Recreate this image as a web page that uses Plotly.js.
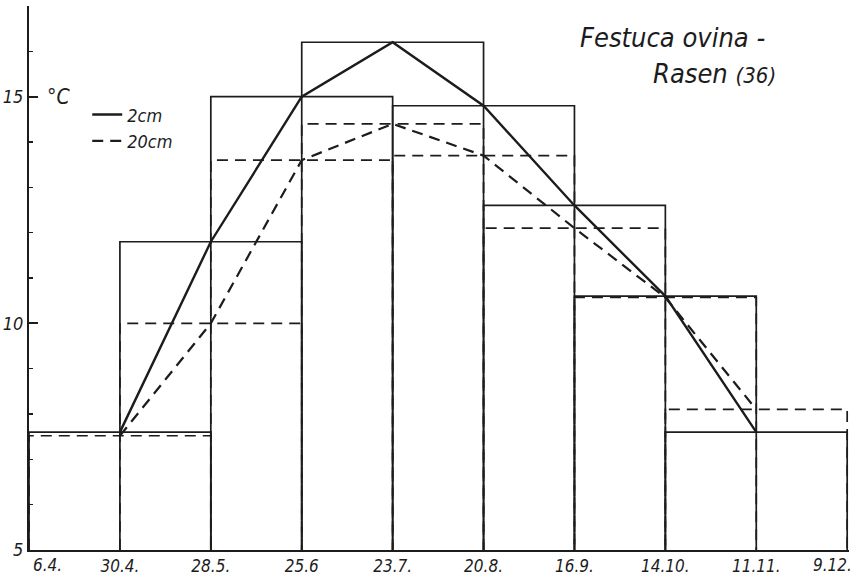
<!DOCTYPE html>
<html><head><meta charset="utf-8">
<script src="https://cdn.plot.ly/plotly-3.0.1.min.js"></script>
<style>html,body{margin:0;padding:0;background:#fff}#chart{width:859px;height:580px}</style>
</head><body><div id="chart"></div>
<script>
// ---- data ----
const dates = ["6.4.","30.4.","28.5.","25.6","23.7.","20.8.","16.9.","14.10.","11.11.","9.12."];
const measuredDates = ["30.4.","28.5.","25.6","23.7.","20.8.","16.9.","14.10.","11.11."];
const temp2cm  = [7.6, 11.8, 15.0, 16.2, 14.8, 12.6, 10.6, 7.6];
const temp20cm = [7.52, 10.0, 13.6, 14.4, 13.7, 12.1, 10.57, 8.1];
const yTickVals = [5, 10, 15];
const yTickText = ["5", "10", "15"];
const baseValue = 5;

// ---- build traces ----
const FONT = "'DejaVu Sans Condensed','Liberation Sans Narrow','DejaVu Sans',sans-serif";
const INK = "#1c1c1c";
const DASH = "11px,7px";
const idx = measuredDates.map(d => dates.indexOf(d));
const lastIdx = dates.length - 1;

function boxes(vals){
  const xs = [], ys = [];
  vals.forEach((v, k) => {
    const c = idx[k];
    xs.push(c - 1, c - 1, c + 1, c + 1, null);
    ys.push(baseValue, v, v, baseValue, null);
  });
  return {xs, ys};
}
const b20 = boxes(temp20cm), b2 = boxes(temp2cm);

const traces = [
  {x: b20.xs, y: b20.ys, mode: "lines", line: {color: INK, width: 1.7, dash: DASH}, showlegend: false, hoverinfo: "skip", connectgaps: false},
  {x: b2.xs, y: b2.ys, mode: "lines", line: {color: INK, width: 1.7}, showlegend: false, hoverinfo: "skip", connectgaps: false},
  {x: idx, y: temp2cm, name: "2cm", mode: "lines", line: {color: INK, width: 2.4}, legendrank: 1},
  {x: idx, y: temp20cm, name: "20cm", mode: "lines", line: {color: INK, width: 2.2, dash: DASH}, legendrank: 2}
];

// inner x tick labels on the axis; the two end labels sit inside the frame as in the reference
const innerTickVals = dates.map((d, i) => i).slice(1, lastIdx);
const innerTickText = dates.slice(1, lastIdx);
const xLabelFont = {family: FONT, size: 17, color: INK, style: "italic"};

const layout = {
  width: 859, height: 580,
  margin: {l: 29, r: 10, t: 6, b: 30},
  paper_bgcolor: "#fff", plot_bgcolor: "#fff",
  font: {family: FONT, color: INK, size: 18, style: "italic"},
  showlegend: true,
  legend: {x: 0.071, y: 0.834, xanchor: "left", yanchor: "top", bgcolor: "rgba(0,0,0,0)",
           font: {family: FONT, size: 18, color: INK, style: "italic"}, tracegroupgap: 0},
  title: {text: "Festuca ovina -", xref: "container", yref: "container", x: 580/859, xanchor: "left",
          y: 1 - 38/580, yanchor: "middle", font: {family: FONT, size: 27, color: INK, style: "italic"}},
  xaxis: {range: [0, 9.02], tickmode: "array", tickvals: innerTickVals, ticktext: innerTickText,
          showline: true, linecolor: INK, linewidth: 2, ticks: "", showgrid: false, zeroline: false,
          tickfont: xLabelFont, fixedrange: true},
  yaxis: {range: [5, 17], tickmode: "array", tickvals: yTickVals, ticktext: yTickText,
          ticks: "inside", ticklen: 9, tickwidth: 2, tickcolor: INK,
          minor: {dtick: 1, tick0: 5, ticks: "inside", ticklen: 4, tickwidth: 1.6, tickcolor: INK, showgrid: false},
          showline: true, linecolor: INK, linewidth: 2, showgrid: false, zeroline: false,
          tickfont: {family: FONT, size: 18, color: INK, style: "italic"}, fixedrange: true},
  annotations: [
    {text: "Rasen <span style='font-size:22px'>(36)</span>", xref: "paper", yref: "paper",
     x: (651 - 29)/819.8, y: (550 - 73)/544, xanchor: "left", yanchor: "middle", showarrow: false,
     font: {family: FONT, size: 27, color: INK, style: "italic"}},
    {text: "°C", xref: "paper", yref: "paper", x: (45 - 29)/819.8, y: (550 - 97)/544,
     xanchor: "left", yanchor: "middle", showarrow: false,
     font: {family: FONT, size: 21, color: INK, style: "italic"}},
    {text: dates[0], xref: "x", yref: "paper", x: 0, y: 0, xanchor: "left", yanchor: "top",
     xshift: 2, yshift: -3, showarrow: false, font: xLabelFont},
    {text: dates[lastIdx], xref: "x", yref: "paper", x: lastIdx, y: 0, xanchor: "right", yanchor: "top",
     xshift: 7, yshift: -3, showarrow: false, font: xLabelFont}
  ]
};

Plotly.newPlot("chart", traces, layout, {displayModeBar: false, staticPlot: true});
</script></body></html>
